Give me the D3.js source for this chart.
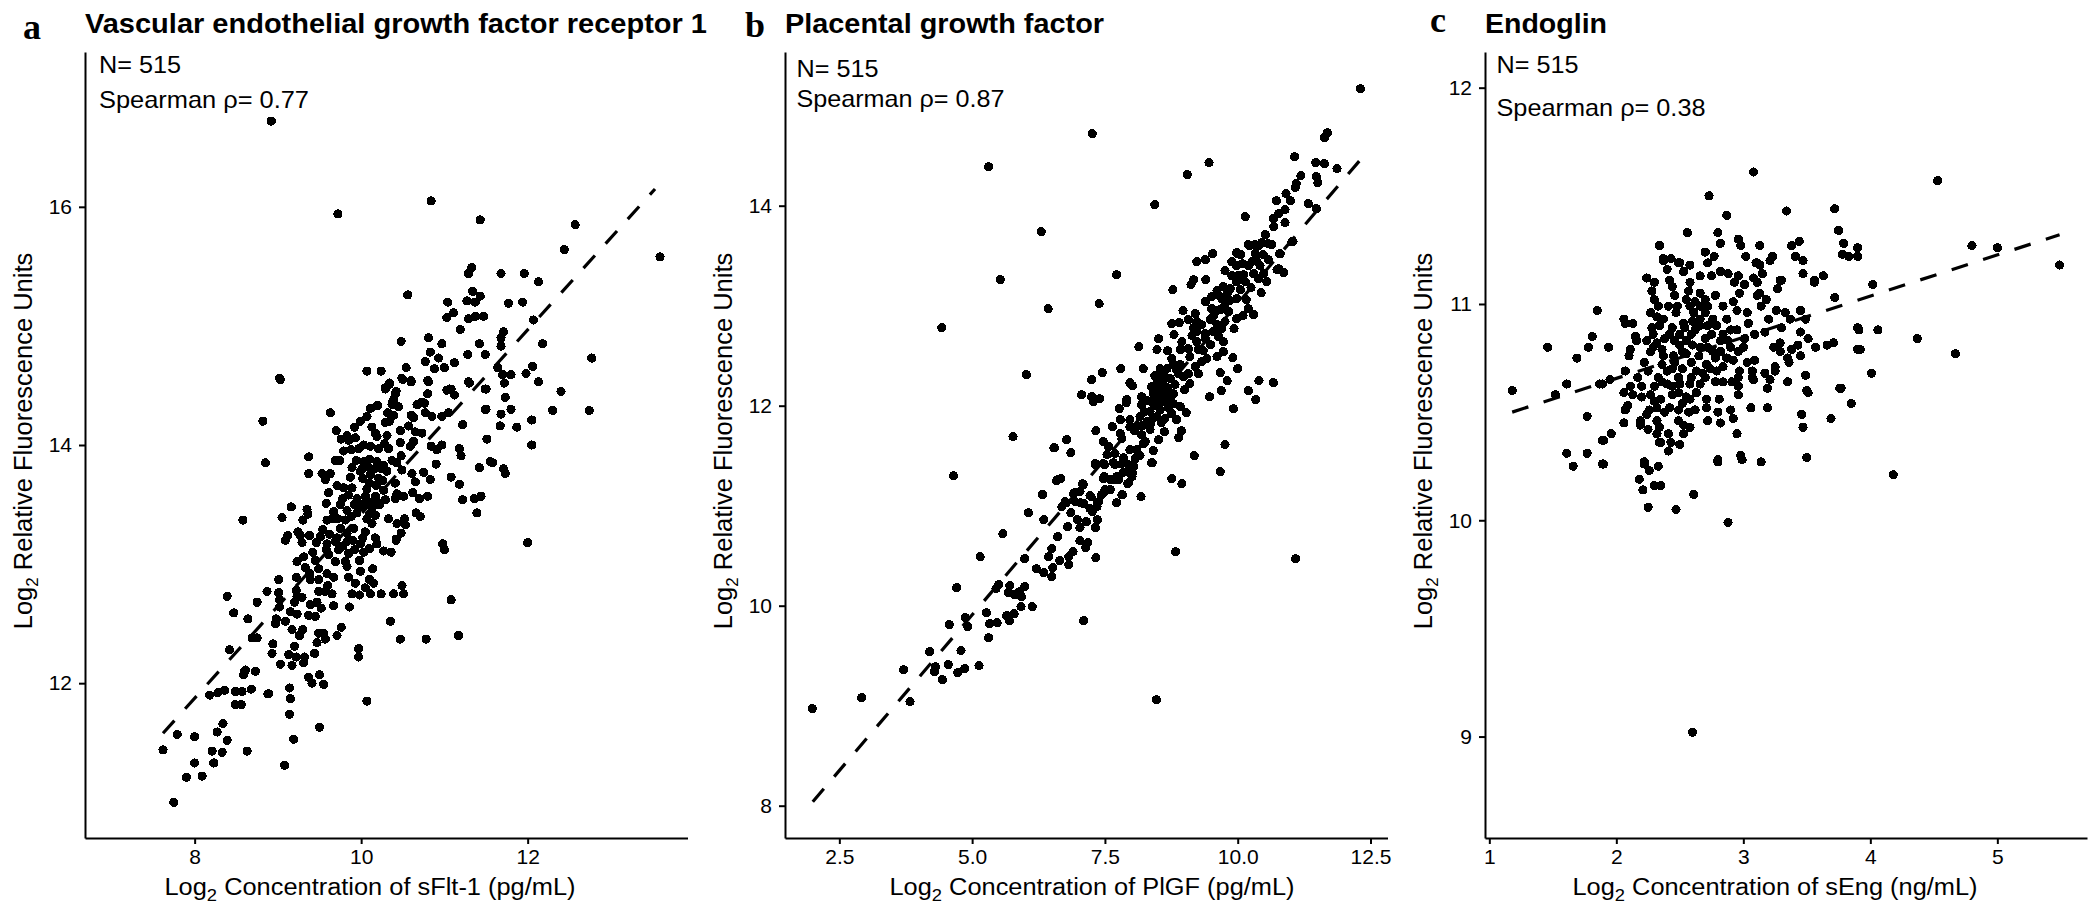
<!DOCTYPE html>
<html><head><meta charset="utf-8">
<script src="https://cdn.jsdelivr.net/npm/d3@7"></script>
<style>
html,body{margin:0;padding:0;background:#fff}
svg{display:block}
text{font-family:"Liberation Sans",Arial,sans-serif;fill:#000}
</style></head><body>
<svg id="c" width="2100" height="919"></svg>
<script>
const letters=["a","b","c"];
const titles=["Vascular endothelial growth factor receptor 1","Placental growth factor","Endoglin"];
const xTitles=["Concentration of sFlt-1 (pg/mL)","Concentration of PlGF (pg/mL)","Concentration of sEng (ng/mL)"];
const nLabel="N= 515";
const rhoLabels=["Spearman \u03c1= 0.77","Spearman \u03c1= 0.87","Spearman \u03c1= 0.38"];
const xTicksA=[8,10,12], yTicksA=[12,14,16];
const xTicksB=[2.5,5,7.5,10,12.5], yTicksB=[8,10,12,14];
const xTicksC=[1,2,3,4,5], yTicksC=[9,10,11,12];
const fitA=[[7.62,11.58],[13.53,16.15]];
const fitB=[[2.0,8.04],[12.31,14.46]];
const fitC=[[1.18,10.50],[5.49,11.32]];
const pointsA=[[9.03,14.55],[10.34,14.52],[10.29,14.47],[10.5,14.55],[10.6,14.53],[10.81,14.53],[11.3,14.52],[11.49,14.47],[11.06,14.47],[11.12,14.42],[10.8,14.43],[10.42,14.45],[10.39,14.38],[10.45,14.32],[10.37,14.34],[10.2,14.33],[10.12,14.31],[9.63,14.27],[8.82,14.2],[10.73,14.36],[10.67,14.34],[11.49,14.3],[10.77,14.27],[10.85,14.24],[11.05,14.27],[10.97,14.24],[10.6,14.25],[10.63,14.23],[10.39,14.25],[10.32,14.27],[10.29,14.19],[10.34,14.2],[10.07,14.24],[9.99,14.2],[9.92,14.15],[9.7,14.12],[10.13,14.15],[10.17,14.1],[10.57,14.16],[10.65,14.11],[10.73,14.1],[10.47,14.12],[11.22,14.17],[10.31,14.08],[10.19,14.07],[9.83,14.08],[9.76,14.05],[9.93,14.06],[9.85,14.04],[11.51,14.05],[10.47,14.02],[10.63,14.03],[10.59,13.99],[10.84,13.99],[10.97,14],[10.91,13.96],[10.28,14.01],[10.33,13.97],[10.03,14],[10.11,13.99],[10.21,13.97],[9.97,13.97],[9.88,13.96],[9.79,13.95],[11.18,13.97],[11.2,13.91],[9.37,13.9],[8.85,13.85],[10.48,13.91],[9.69,13.87],[9.74,13.87],[9.94,13.87],[9.89,13.81],[10.37,13.87],[10.43,13.85],[10.49,13.79],[10.1,13.88],[10.19,13.86],[10.27,13.83],[10.03,13.86],[10.9,13.84],[11.55,13.86],[11.42,13.81],[9.37,13.76],[9.53,13.76],[9.63,13.76],[9.57,13.71],[9.87,13.73],[9.99,13.78],[10.11,13.75],[10.21,13.72],[10.31,13.78],[10.61,13.76],[10.75,13.77],[10.65,13.69],[10.83,13.71],[11.08,13.73],[11.18,13.67],[10.41,13.68],[9.71,13.66],[9.89,13.64],[9.79,13.64],[9.61,13.6],[10.07,13.63],[10.27,13.62],[10.43,13.59],[10.51,13.57],[10.62,13.6],[10.8,13.57],[10.7,13.55],[11.22,13.54],[11.36,13.55],[11.44,13.57],[9.85,13.58],[9.95,13.55],[10.05,13.57],[10.17,13.57],[10.29,13.54],[10.41,13.55],[9.58,13.51],[9.16,13.48],[9.35,13.46],[9.36,13.42],[9.3,13.37],[9.05,13.39],[9.75,13.5],[9.67,13.44],[9.83,13.45],[9.95,13.43],[10.13,13.47],[10.17,13.41],[10.07,13.38],[10,13.48],[10.66,13.43],[10.71,13.4],[11.39,13.43],[10.33,13.38],[10.52,13.38],[10.43,13.34],[10.53,13.33],[9.59,13.37],[9.65,13.38],[9.81,13.37],[9.91,13.3],[10.13,13.34],[10.05,13.27],[9.54,13.29],[9.75,13.3],[9.83,13.26],[9.24,13.27],[9.27,13.24],[9.12,13.24],[9.38,13.24],[9.51,13.23],[9.71,13.22],[10.17,13.22],[10.42,13.21],[10.48,13.26],
[9.09,13.2],[9.29,13.18],[9.46,13.18],[9.59,13.17],[9.69,13.19],[9.83,13.19],[9.99,13.17],[10.19,13.17],[10.42,13.2],[10.98,13.17],[11,13.12],[9.42,13.1],[9.73,13.12],[9.61,13.08],[9.85,13.09],[10.03,13.1],[10.27,13.11],[10.36,13.1],[9.31,13.06],[9.23,13.02],[9.45,13.03],[9.69,13.02],[9.81,13.02],[9.98,13.03],[9.33,12.97],[9.49,12.96],[9.83,12.98],[10.14,12.96],[9.99,12.94],[9.59,12.92],[9.67,12.89],[9.85,12.89],[9.22,12.89],[9.01,12.87],[9.39,12.87],[9.49,12.87],[10.1,12.87],[10.15,12.84],[9.93,12.84],[10.49,12.82],[8.87,12.77],[9.01,12.76],[9.22,12.78],[9.23,12.73],[9.49,12.77],[9.57,12.77],[9.65,12.75],[9.89,12.75],[9.98,12.74],[10.05,12.8],[10.11,12.75],[10.24,12.75],[10.39,12.75],[10.51,12.75],[8.39,12.73],[11.08,12.7],[8.75,12.68],[9.02,12.7],[9.02,12.64],[9.39,12.66],[9.47,12.68],[9.52,12.63],[9.67,12.65],[9.86,12.64],[8.47,12.59],[8.64,12.54],[9.15,12.6],[9.23,12.58],[9.37,12.57],[9.45,12.56],[8.98,12.54],[9.09,12.52],[8.97,12.5],[10.35,12.52],[9.76,12.47],[9.17,12.45],[9.3,12.45],[9.26,12.4],[9.49,12.42],[9.55,12.42],[9.71,12.4],[9.57,12.37],[9.47,12.34],[8.69,12.38],[8.75,12.38],[10.47,12.37],[10.78,12.37],[11.17,12.4],[8.94,12.33],[9.2,12.31],[8.93,12.25],[9.44,12.25],[9.97,12.29],[9.97,12.22],[8.42,12.28],[9.13,12.24],[9.22,12.22],[9.32,12.22],[9.31,12.17],[9.17,12.15],[9.03,12.16],[8.61,12.11],[8.59,12.07],[8.73,12.1],[9.37,12.05],[9.5,12.07],[9.41,12],[9.55,11.99],[9.14,11.96],[8.68,11.95],[8.57,11.93],[8.49,11.93],[8.36,11.94],[8.28,11.92],[8.89,11.91],[9.15,11.87],[10.07,11.85],
[8.92,16.72],[9.72,15.94],[10.84,16.05],[11.43,15.89],[12.57,15.85],[12.44,15.64],[13.59,15.58],[11.33,15.49],[11.29,15.44],[11.68,15.44],[11.96,15.44],[12.13,15.37],[10.56,15.26],[11.34,15.29],[11.43,15.25],[11.37,15.2],[11.27,15.21],[11.04,15.2],[11.77,15.19],[11.94,15.2],[11.11,15.11],[11.03,15.07],[11.29,15.06],[11.37,15.08],[11.47,15.08],[12.07,15.05],[11.19,14.97],[11.71,14.95],[11.68,14.9],[11.68,14.83],[10.81,14.9],[10.48,14.87],[10.97,14.85],[11.42,14.85],[12.18,14.85],[10.83,14.78],[11.28,14.76],[11.49,14.76],[12.77,14.73],[10.93,14.73],[10.77,14.7],[11.12,14.69],[11,14.65],[10.88,14.64],[10.54,14.65],[11.64,14.65],[12.06,14.66],[10.07,14.62],[10.24,14.62],[9.02,14.56],[10.49,14.56],[10.6,14.54],[10.8,14.54],[11.7,14.59],[11.8,14.59],[11.98,14.6],[11.72,14.52],[12.13,14.53],[11.29,14.53],[10.34,14.51],[10.29,14.48],[11.03,14.46],[11.08,14.47],[11.5,14.47],[12.4,14.45],[11.12,14.42],[10.8,14.43],[11.73,14.4],[10.41,14.43],[10.38,14.36],[10.45,14.32],[10.11,14.31],[10.19,14.33],[10.68,14.34],[10.76,14.35],[11.5,14.3],[11.8,14.3],[12.3,14.29],[12.74,14.29],[11.68,14.26],[12.05,14.21],[11.67,14.16],[11.87,14.15],[12.05,14],[11.58,13.85],[11.71,13.8],[11.73,13.76],[12,13.18],[8.58,13.37],[7.79,11.57],[7.62,11.44],[8,11.55],[8.27,11.59],[8.34,11.66],[8.39,11.52],[8.21,11.43],[8.33,11.42],[8.63,11.43],[8,11.33],[8.23,11.33],[7.9,11.21],[8.09,11.22],[7.75,11],[9.08,11.31],[9.19,11.53],[9.5,11.63],[9.14,11.74],[8.88,11.91],[9.55,11.99],[8.18,11.9],[8.49,11.82],[8.56,11.82],[8.6,12.1],
[10.01,13.8],[10.08,13.82],[10.16,13.8],[10.24,13.8],[10.02,13.72],[10.1,13.68],[10.18,13.66],[10.26,13.7],[9.92,13.5],[10.02,13.5],[10.1,13.52],[10.22,13.5],[9.78,13.55],[9.88,13.4],[10.1,13.42],[10.2,13.52],[9.72,13.38],[9.9,13.2],[9.62,13.25],[10.02,13.22],[10.1,13.13],[9.78,13.15],[9.58,13.12],[9.92,13.12],[9.38,12.92],[9.29,12.72],[9.2,12.68],[9.6,12.82]];
const pointsB=[[11.02,13.64],[9.53,13.52],[9.39,13.46],[9.23,13.44],[10.2,13.61],[10.33,13.61],[10.45,13.63],[10.64,13.61],[9.98,13.53],[10.06,13.51],[10.8,13.52],[10.33,13.52],[10.48,13.51],[10.58,13.46],[10.27,13.44],[9.89,13.44],[10.09,13.42],[10.42,13.4],[9.76,13.35],[9.98,13.4],[10.74,13.36],[10.87,13.33],[7.72,13.31],[10.3,13.32],[10.49,13.32],[10.11,13.31],[9.89,13.3],[10.39,13.27],[10.55,13.24],[9.98,13.24],[9.17,13.26],[9.12,13.21],[9.4,13.26],[8.78,13.16],[10.14,13.24],[9.73,13.19],[9.61,13.15],[9.86,13.17],[10.05,13.16],[10.44,13.13],[7.39,13.02],[9.51,13.09],[9.39,13.04],[9.7,13.07],[9.98,13.07],[10.16,13.06],[9.76,13.01],[9.51,12.97],[9.67,12.96],[9.83,12.94],[10.2,12.97],[8.97,12.95],[9.2,12.92],[9.98,12.87],[10.1,12.9],[10.3,12.91],[8.76,12.82],[8.9,12.83],[9.07,12.86],[9.23,12.84],[9.48,12.86],[9.76,12.84],[9.17,12.78],[9.32,12.81],[9.61,12.81],[9.93,12.77],[9.7,12.77],[8.8,12.71],[9.23,12.74],[9.39,12.72],[9.54,12.74],[8.51,12.67],[9.64,12.69],[9.39,12.67],[8.95,12.64],[9.23,12.64],[9.73,12.64],[8.14,12.59],[8.48,12.56],[8.68,12.55],[8.92,12.56],[9.07,12.57],[9.26,12.56],[9.49,12.61],[9.73,12.54],[9.1,12.49],[8.76,12.47],[9.42,12.47],[9.61,12.49],[9.91,12.48],[9.32,12.44],[7.8,12.37],[8.22,12.37],[10,12.37],[8.92,12.41],[8.79,12.41],[9.2,12.39],[8.54,12.37],[8.67,12.37],[7.45,12.33],[9.67,12.33],[9.07,12.32],[8.88,12.32],[8.6,12.32],[8.48,12.27],[8.73,12.27],[8.98,12.29],[9.26,12.32],[7.25,12.26],[7.97,12.23],[8.02,12.2],[9.8,12.25],[10.4,12.25],[10.67,12.23],[8.38,12.19],[8.6,12.21],[8.82,12.21],[9.1,12.22],[9,12.16],[9.69,12.15],[10.2,12.15],[8.41,12.12],[8.57,12.12],[8.79,12.12],[8.19,12.09],[9.47,12.09],[7.25,12.09],[7.4,12.07],[10.34,12.06],[7.91,12.06],[8.73,12.06],[8.41,12.06],
[7.06,12.11],[7.28,12.04],[7.9,12.03],[7.77,11.97],[8.19,12.01],[9.92,11.97],[8.41,12.02],[8.6,12.04],[8.79,12.02],[8.92,11.99],[8.35,11.94],[8.54,11.96],[8.76,11.92],[9.03,11.93],[7.97,11.86],[7.79,11.86],[8.16,11.89],[8.48,11.89],[8.29,11.84],[8.63,11.87],[8.85,11.86],[7.64,11.79],[7.33,11.75],[8.1,11.79],[7.97,11.79],[8.35,11.76],[8.62,11.74],[8.94,11.75],[8.89,11.68],[7.79,11.72],[7.82,11.67],[8.19,11.71],[8.26,11.64],[8.51,11.66],[7.47,11.64],[6.78,11.66],[6.54,11.58],[6.86,11.53],[8.41,11.55],[9.76,11.61],[7.57,11.59],[7.69,11.52],[8.1,11.56],[7.97,11.56],[7.85,11.48],[9.18,11.5],[8.38,11.43],[7.54,11.51],[7.32,11.41],[7.47,11.42],[7.69,11.41],[8.04,11.39],[9.67,11.34],[7.94,11.34],[8.01,11.29],[7.72,11.29],[7.47,11.27],[7.6,11.26],[7.76,11.26],[8.76,11.27],[8.95,11.22],[7.93,11.22],[6.67,11.27],[6.59,11.25],[7.08,11.22],[7.5,11.16],[7.6,11.16],[6.91,11.12],[7.03,11.14],[7.44,11.11],[6.33,11.11],[7.22,11.1],[7.83,11.11],[8.18,11.09],[6.75,11.04],[6.94,11.04],[7.1,11.02],[7.38,11.04],[7.72,11.03],[7.35,10.99],[6.69,10.99],[7.22,10.97],
[7.26,14.72],[5.31,14.39],[12.31,15.17],[11.69,14.73],[11.63,14.68],[11.07,14.49],[9.46,14.43],[9.05,14.31],[11.47,14.43],[11.63,14.42],[11.87,14.37],[11.19,14.3],[11.48,14.29],[11.51,14.23],[11.1,14.22],[11.08,14.18],[8.44,14.01],[6.3,13.74],[10.14,13.89],[10.91,14.12],[10.73,14.05],[10.99,14.05],[11.33,14.02],[11.48,13.97],[10.89,13.96],[10.77,13.92],[10.67,13.87],[10.89,13.83],[10.68,13.79],[11.04,13.64],[10.52,13.71],[10.57,13.62],[10.22,13.6],[10.39,13.6],[10.79,13.52],[10,13.52],[10.77,13.37],[5.53,13.26],[6.43,12.97],[4.43,12.78],[6.02,12.31],[5.77,11.69],[6.55,11.58],[4.65,11.3],[6.77,11.03],[7.09,11.21],[6.32,11.11],[6.93,11.13],[6.61,11.26],[6.06,10.93],[7.04,11.03],[6.86,10.93],[7.26,10.94],[6.35,10.86],[6.98,10.86],[7.15,10.84],[7.36,10.86],[6.8,10.79],[7.03,10.78],[7.32,10.78],[5.58,10.72],[6.61,10.69],[7.03,10.65],[7.18,10.63],[7.14,10.58],[6.5,10.57],[6.9,10.54],[6.82,10.49],[6.44,10.49],[7.33,10.48],[8.83,10.54],[11.09,10.47],[5.15,10.49],[5.99,10.47],[6.65,10.45],[6.82,10.41],[6.21,10.37],[6.52,10.38],[6.35,10.33],[6.5,10.29],[5.5,10.21],[5.45,10.17],[5.71,10.2],[5.99,10.19],[4.71,10.18],[5.68,10.13],[5.89,10.14],[5.79,10.11],[5.93,10.09],[5.92,9.99],[6.13,9.99],[7.1,9.85],[5.27,9.93],[4.87,9.88],[4.57,9.81],[4.92,9.79],[5.33,9.82],[5.47,9.83],[5.65,9.9],[5.7,9.85],[5.79,9.92],[5.31,9.68],[4.2,9.54],[4.79,9.55],[4.55,9.41],[5.13,9.4],[4.31,9.39],[4.29,9.34],[4.86,9.37],[4.73,9.33],[3.71,9.36],[4.44,9.26],[2.92,9.08],[3.83,9.04],[1.99,8.97],[8.47,9.06],[7.32,11.42],[7.49,11.41],[7.66,11.43],[7.82,11.42],[8,11.39],[8.02,11.33],[7.49,11.29],[7.66,11.26],[7.95,11.23],[7.49,11.14],[7.82,11.11],[7.72,11.03],[8.39,11.43],[7.36,11.03],[7.24,11.09],
[8.5,12.22],[8.68,12.18],[8.5,12.14],[8.66,12.1],[8.46,12],[8.7,11.98],[8.5,12.08],[8.62,12.28],[8.44,12.3],[8.3,12.05],[8.24,11.94],[8.42,11.88],[8.56,11.83],[8.36,11.82],[8.2,11.8],[8.06,11.75],[8.22,11.62],[8.16,11.5],[8.07,11.47],[7.94,11.41],[7.84,11.33],[9.55,12.9],[9.6,12.95],[9.65,13.1],[9.85,13.05],[9.8,13.12],[10,13.3],[10.2,13.4],[10.25,13.18],[10.35,13.45],[8.85,12.36],[9.14,12.7],[9.35,12.55]];
const pointsC=[[2.37,11.2],[2.5,11.19],[2.58,11.18],[2.72,11.19],[3.11,11.19],[3.47,11.2],[2.4,11.16],[2.53,11.15],[2.24,11.12],[2.3,11.1],[2.66,11.13],[2.75,11.13],[2.82,11.15],[2.88,11.14],[2.96,11.13],[3.08,11.12],[3.15,11.14],[3.47,11.14],[3.63,11.13],[3.56,11.1],[2.42,11.11],[2.44,11.08],[2.58,11.1],[2.93,11.1],[3.01,11.09],[3.11,11.1],[3.3,11.11],[3.27,11.07],[2.28,11.06],[2.46,11.04],[2.57,11.06],[2.66,11.05],[2.78,11.04],[2.97,11.05],[3.13,11.05],[3.11,11.04],[2.3,11.02],[2.55,11.02],[2.92,11.01],[3.18,11.02],[3.14,10.99],[3.72,11.03],[2.33,10.99],[2.41,10.99],[2.48,10.99],[2.84,10.99],[2.66,10.99],[2.72,10.99],[2.58,10.99],[2.27,10.96],[2.47,10.96],[2.61,10.96],[2.7,10.96],[2.95,10.97],[3.03,10.96],[3.26,10.97],[3.33,10.96],[3.45,10.97],[2.06,10.93],[2.13,10.91],[2.32,10.94],[2.37,10.93],[2.53,10.91],[2.66,10.93],[2.76,10.93],[2.87,10.93],[3.2,10.93],[3.37,10.93],[3.49,10.93],[2.07,10.91],[2.28,10.89],[2.44,10.89],[2.54,10.89],[2.66,10.9],[2.79,10.9],[3.04,10.91],[3.3,10.89],[3.45,10.87],[3.9,10.89],[2.29,10.86],[2.42,10.86],[2.59,10.86],[2.75,10.86],[2.95,10.88],[3.09,10.86],[3.17,10.87],[2.15,10.85],[2.16,10.83],[2.24,10.83],[2.46,10.83],[2.55,10.83],[2.82,10.83],[2.88,10.83],[3.01,10.84],[3.51,10.84],[2.29,10.8],[2.36,10.79],[2.5,10.81],[2.72,10.8],[2.9,10.8],[3,10.8],[3.29,10.82],[3.24,10.8],[3.43,10.81],[3.66,10.81],[3.71,10.82],[3.57,10.8],[2.11,10.79],[2.1,10.76],[2.27,10.78],[2.55,10.77],[2.96,10.78],[3.29,10.78],[3.38,10.79],[3.45,10.76],[3.9,10.79],[2.37,10.76],[2.45,10.76],[2.65,10.76],[2.78,10.75],[2.87,10.75],[2.92,10.74],[3.09,10.74],[3.35,10.75],[3.36,10.73],[2.22,10.73],[2.36,10.72],[2.46,10.73],[2.59,10.73],[2.71,10.72],[3.03,10.73],[3.25,10.71],[2.07,10.69],[2.25,10.69],[2.4,10.69],[2.63,10.69],[2.79,10.69],[2.97,10.69],[3.07,10.69],[3.17,10.68],[3.25,10.69],[3.49,10.67],[2.17,10.66],[2.33,10.66],[2.49,10.66],[2.59,10.66],[2.7,10.66],[2.96,10.66],[3.07,10.66],
[1.89,10.63],[1.95,10.65],[3.35,10.64],[3.5,10.6],[3.08,10.65],[3.21,10.65],[3.76,10.61],[3.19,10.61],[2.96,10.58],[2.96,10.62],[2.91,10.64],[2.84,10.64],[2.78,10.64],[2.06,10.59],[2.11,10.62],[2.2,10.62],[2.27,10.58],[2.36,10.64],[2.4,10.63],[2.5,10.63],[2.58,10.63],[2.66,10.63],[2.13,10.58],[2.2,10.57],[2.35,10.56],[2.49,10.59],[2.55,10.57],[2.63,10.59],[2.71,10.56],[2.81,10.56],[2.09,10.53],[2.07,10.51],[2.26,10.51],[2.42,10.52],[2.49,10.51],[2.62,10.51],[2.57,10.5],[2.71,10.52],[2.8,10.5],[2.9,10.51],[2.92,10.47],[3.06,10.52],[3.19,10.52],[3.46,10.49],[3.69,10.47],[2.19,10.46],[2.24,10.49],[2.32,10.46],[2.49,10.46],[2.06,10.45],[2.19,10.44],[2.72,10.46],[2.82,10.45],[3.47,10.43],[2.25,10.42],[2.34,10.43],[2.53,10.44],[2.58,10.43],[2.53,10.4],[2.95,10.4],[1.96,10.4],[1.89,10.37],[2.32,10.4],[2.41,10.4],[2.34,10.36],[2.43,10.36],[2.5,10.35],[2.41,10.32],[2.98,10.3],[2.8,10.28],[3.14,10.27],[3.5,10.29],[2.22,10.27],[1.89,10.26],[2.33,10.25],[2.26,10.23],[2.18,10.19],[2.3,10.16],[2.35,10.16],[2.21,10.14],
[3.08,11.61],[4.53,11.57],[2.73,11.5],[2.87,11.41],[3.34,11.43],[3.72,11.44],[3.75,11.34],[2.56,11.33],[2.8,11.33],[2.34,11.27],[2.96,11.3],[2.98,11.27],[3.13,11.27],[2.82,11.28],[3.44,11.29],[3.38,11.27],[3.79,11.28],[3.9,11.26],[4.8,11.27],[5,11.26],[2.7,11.24],[2.77,11.22],[2.72,11.19],[2.37,11.21],[2.43,11.21],[3.41,11.22],[3.78,11.23],[3.83,11.22],[3.9,11.22],[3.02,11.22],[3.23,11.22],[3.21,11.2],[3.1,11.19],[3.13,11.18],[3.47,11.2],[5.49,11.18],[2.49,11.19],[2.58,11.18],[2.4,11.16],[3.47,11.14],[3.15,11.14],[3.63,11.13],[3.56,11.11],[2.24,11.12],[2.3,11.1],[3.29,11.11],[3.27,11.07],[4.02,11.09],[3.72,11.03],[3.91,10.88],[4.06,10.88],[4.37,10.84],[4.67,10.77],[3.92,10.79],[4.01,10.68],[3.77,10.61],[3.85,10.54],[3.51,10.59],[1.85,10.97],[1.46,10.8],[1.81,10.85],[1.78,10.8],[1.69,10.75],[1.94,10.8],[1.61,10.63],[1.18,10.6],[1.52,10.58],[1.87,10.63],[1.77,10.48],[1.9,10.37],[1.61,10.31],[1.77,10.31],[1.66,10.25],[1.9,10.26],[2.22,10.26],[2.33,10.25],[2.26,10.23],[2.61,10.12],[2.25,10.06],[2.47,10.05],[2.88,9.99],[4.18,10.21],[2.6,9.02],[2.8,10.27],[2.99,10.28],[3.14,10.27],[2.35,10.36],
[2.62,11.01],[2.7,11.02],[2.6,10.92],[2.72,10.9],[2.62,10.88],[2.7,10.84],[2.6,10.81],[2.66,10.8],[2.32,10.82],[2.38,10.84],[2.34,10.9],[2.5,10.86],[2.52,10.78],[2.44,10.7],[2.52,10.7],[2.3,10.62],[2.44,10.62],[2.44,10.58],[2.3,10.55],[2.58,10.56],[2.52,10.54],[2.38,10.5],[2.32,10.52],[2.68,10.68],[2.74,10.7],[2.84,10.71],[2.82,10.78],[2.76,10.78],[2.84,10.86],[2.9,10.88]];
const panelData=[pointsA,pointsB,pointsC];
const fits=[fitA,fitB,fitC];
const xTicks=[xTicksA,xTicksB,xTicksC], yTicks=[yTicksA,yTicksB,yTicksC];
const xDomains=[[6.683,13.92],[1.477,12.82],[0.966,5.706]];
const yDomains=[[10.70,17.30],[7.677,15.537],[8.531,12.165]];
const xFormats=[d3.format("d"),d3.format(".1f"),d3.format("d")];
const lefts=[85,785,1485], rights=[687.5,1387.5,2087];
const letterX=[23,745,1430], letterBase=[39,37,32];
const annoX=[99,796.5,1496.5], nBase=[73,77,73], rhoBase=[108,107,116];
const titleLen=[622,319,122];
const xtCenter=[370,1092,1775], xtLen=[411,405,405];
const rhoLen=[210,208,209];
const top_=52,bottom=838;
const svg=d3.select("#c");
panelData.forEach((pts,i)=>{
  const x=d3.scaleLinear(xDomains[i],[lefts[i],rights[i]]);
  const y=d3.scaleLinear(yDomains[i],[bottom,top_]);
  const g=svg.append("g");
  g.selectAll("circle").data(pts).join("circle")
    .attr("cx",d=>x(d[0])).attr("cy",d=>y(d[1])).attr("r",4.6).attr("fill","#000").attr("shape-rendering","crispEdges");
  g.append("path").attr("d",d3.line().x(d=>x(d[0])).y(d=>y(d[1]))(fits[i]))
    .attr("stroke","#000").attr("stroke-width",3.2).attr("stroke-dasharray","17 16").attr("fill","none");
  const ax=g.append("g").attr("transform",`translate(0,${bottom})`)
    .call(d3.axisBottom(x).tickValues(xTicks[i]).tickFormat(xFormats[i]).tickSize(6).tickSizeOuter(0).tickPadding(5));
  const ay=g.append("g").attr("transform",`translate(${lefts[i]},0)`)
    .call(d3.axisLeft(y).tickValues(yTicks[i]).tickFormat(d3.format("d")).tickSize(6).tickSizeOuter(0).tickPadding(7));
  [ax,ay].forEach(a=>{
    a.selectAll("path,line").attr("stroke","#000").attr("stroke-width",2);
    a.selectAll("text").attr("fill","#000").style("font-size","21px").style("font-family",'"Liberation Sans"');
  });
  const xt=g.append("text").attr("x",xtCenter[i]).attr("y",895).attr("text-anchor","middle")
    .attr("textLength",xtLen[i]).attr("lengthAdjust","spacingAndGlyphs").style("font-size","23.5px");
  xt.append("tspan").text("Log");
  xt.append("tspan").text("2").attr("dy",6).style("font-size","17px");
  xt.append("tspan").text(" "+xTitles[i]).attr("dy",-6);
  const yt=g.append("text").attr("transform",`translate(${lefts[i]-53},441) rotate(-90)`).attr("text-anchor","middle").style("font-size","25.5px");
  yt.append("tspan").text("Log");
  yt.append("tspan").text("2").attr("dy",6).style("font-size","17px");
  yt.append("tspan").text(" Relative Fluorescence Units").attr("dy",-6);
  g.append("text").attr("x",lefts[i]).attr("y",33).attr("textLength",titleLen[i]).attr("lengthAdjust","spacingAndGlyphs")
    .style("font-size","27.5px").style("font-weight","bold").text(titles[i]);
  g.append("text").attr("x",letterX[i]).attr("y",letterBase[i]).style("font-size","36px").style("font-weight","bold").style("font-family",'"Liberation Serif"').text(letters[i]);
  g.append("text").attr("x",annoX[i]).attr("y",nBase[i]).attr("textLength",82).attr("lengthAdjust","spacingAndGlyphs").style("font-size","24px").text(nLabel);
  g.append("text").attr("x",annoX[i]).attr("y",rhoBase[i]).attr("textLength",rhoLen[i]).attr("lengthAdjust","spacingAndGlyphs").style("font-size","24px").text(rhoLabels[i]);
});
</script>
</body></html>
